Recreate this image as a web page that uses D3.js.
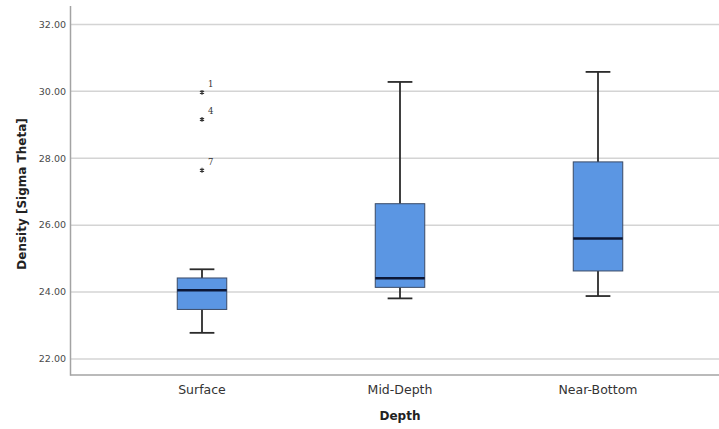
<!DOCTYPE html>
<html>
<head>
<meta charset="utf-8">
<script src="https://cdn.jsdelivr.net/npm/d3@7"></script>
<style>
  html, body { margin: 0; padding: 0; background: #fff; }
  svg { display: block; }
</style>
</head>
<body>
<svg id="chart" width="719" height="429"></svg>
<script>
// ---- data ----
const categories = ["Surface", "Mid-Depth", "Near-Bottom"];
const whiskerLow  = [22.78, 23.81, 23.88];
const q1          = [23.48, 24.14, 24.63];
const medians     = [24.05, 24.41, 25.60];
const q3          = [24.42, 26.64, 27.89];
const whiskerHigh = [24.68, 30.28, 30.58];
const outlierCategory = ["Surface", "Surface", "Surface"];
const outlierValues   = [29.97, 29.16, 27.64];
const outlierLabels   = ["1", "4", "7"];
const yTicks = [22, 24, 26, 28, 30, 32];
const yTitle = "Density [Sigma Theta]";
const xTitle = "Depth";

// ---- layout ----
const svg = d3.select("#chart");
const plotLeft = 70.5, plotRight = 719, plotTop = 6, plotBottom = 375;

const x = d3.scaleBand().domain(categories).range([103, 697]);
const y = d3.scaleLinear().domain([21.52, 32.55]).range([plotBottom, plotTop]);

// gridlines
svg.append("g").selectAll("line").data(yTicks).join("line")
  .attr("x1", plotLeft).attr("x2", plotRight)
  .attr("y1", d => y(d)).attr("y2", d => y(d))
  .attr("stroke", "#d4d4d4").attr("stroke-width", 1.5);

// y tick labels
svg.append("g").selectAll("text").data(yTicks).join("text")
  .attr("x", 66).attr("y", d => y(d)).attr("dy", "0.35em")
  .attr("text-anchor", "end")
  .attr("font-family", "DejaVu Sans, sans-serif").attr("font-size", 9.5)
  .attr("fill", "#4a4a4a")
  .text(d => d3.format(".2f")(d));

// axes lines
svg.append("line").attr("x1", plotLeft).attr("x2", plotLeft).attr("y1", plotTop).attr("y2", plotBottom + 0.75)
  .attr("stroke", "#a3a3a3").attr("stroke-width", 1.5);
svg.append("line").attr("x1", plotLeft).attr("x2", plotRight).attr("y1", plotBottom).attr("y2", plotBottom)
  .attr("stroke", "#a3a3a3").attr("stroke-width", 1.5);

// x axis labels via d3 axis
const xAxis = svg.append("g").attr("transform", `translate(0,${plotBottom})`)
  .call(d3.axisBottom(x).tickSize(0).tickPadding(10));
xAxis.select(".domain").remove();
xAxis.selectAll("text")
  .attr("font-family", "DejaVu Sans, sans-serif").attr("font-size", 12.5)
  .attr("fill", "#333");

// titles
svg.append("text").attr("x", x("Mid-Depth") + x.bandwidth() / 2).attr("y", 420)
  .attr("text-anchor", "middle")
  .attr("font-family", "DejaVu Sans, sans-serif").attr("font-size", 12)
  .attr("font-weight", "bold").attr("fill", "#222").text(xTitle);
svg.append("text").attr("transform", "translate(26,194) rotate(-90)")
  .attr("text-anchor", "middle")
  .attr("font-family", "DejaVu Sans, sans-serif").attr("font-size", 12)
  .attr("font-weight", "bold").attr("fill", "#222").text(yTitle);

// boxes
const boxes = categories.map((c, i) => ({
  c, lo: whiskerLow[i], q1: q1[i], med: medians[i], q3: q3[i], hi: whiskerHigh[i]
}));
const bw = x.bandwidth() * 0.25;
const cw = bw * 0.5;
const g = svg.append("g").selectAll("g").data(boxes).join("g")
  .attr("transform", d => `translate(${x(d.c) + x.bandwidth() / 2},0)`);

// whiskers
g.append("line").attr("x1", 0).attr("x2", 0)
  .attr("y1", d => y(d.hi)).attr("y2", d => y(d.q3))
  .attr("stroke", "#2b2b2b").attr("stroke-width", 1.8);
g.append("line").attr("x1", 0).attr("x2", 0)
  .attr("y1", d => y(d.q1)).attr("y2", d => y(d.lo))
  .attr("stroke", "#2b2b2b").attr("stroke-width", 1.8);
g.append("line").attr("x1", -cw / 2).attr("x2", cw / 2)
  .attr("y1", d => y(d.hi)).attr("y2", d => y(d.hi))
  .attr("stroke", "#2b2b2b").attr("stroke-width", 1.8);
g.append("line").attr("x1", -cw / 2).attr("x2", cw / 2)
  .attr("y1", d => y(d.lo)).attr("y2", d => y(d.lo))
  .attr("stroke", "#2b2b2b").attr("stroke-width", 1.8);

// box
g.append("rect").attr("x", -bw / 2).attr("width", bw)
  .attr("y", d => y(d.q3)).attr("height", d => y(d.q1) - y(d.q3))
  .attr("fill", "#5b96e3").attr("stroke", "#3a4a66").attr("stroke-width", 1);
// median
g.append("line").attr("x1", -bw / 2).attr("x2", bw / 2)
  .attr("y1", d => y(d.med)).attr("y2", d => y(d.med))
  .attr("stroke", "#0c1736").attr("stroke-width", 2.5);

// outliers
const outs = outlierValues.map((v, i) => ({ c: outlierCategory[i], v, label: outlierLabels[i] }));
const og = svg.append("g").selectAll("g").data(outs).join("g")
  .attr("transform", d => `translate(${x(d.c) + x.bandwidth() / 2},${y(d.v)})`);
og.append("path").attr("d", d3.symbol(d3.symbolAsterisk, 16)())
  .attr("stroke", "#333").attr("stroke-width", 1.2).attr("fill", "none");
og.append("text").attr("x", 6).attr("y", -5)
  .attr("font-family", "DejaVu Serif, serif").attr("font-size", 8.5)
  .attr("fill", "#333").text(d => d.label);
</script>
</body>
</html>
